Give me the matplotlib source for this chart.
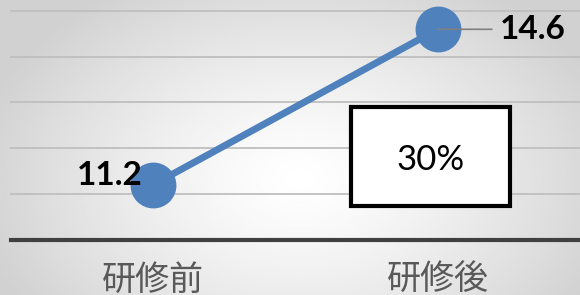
import numpy as np
import matplotlib
matplotlib.use("Agg")
import matplotlib.pyplot as plt
from matplotlib.patches import Rectangle

categories = ["研修前", "研修後"]
values = [11.2, 14.6]
value_labels = ["11.2", "14.6"]
note = "30%"
y_ticks = [11, 12, 13, 14, 15]

blue = "#4f81bd"

fig = plt.figure(figsize=(5.8, 2.95), dpi=100)

# radial gray -> white background
bg = fig.add_axes([0, 0, 1, 1], zorder=-10)
xx, yy = np.meshgrid(np.linspace(0, 580, 290), np.linspace(0, 295, 148))
r = np.sqrt(((xx - 300) / 330) ** 2 + ((yy - 180) / 230) ** 2)
shade = 1.0 - 0.18 * np.clip(r, 0, 1) ** 1.3
bg.imshow(shade, cmap="gray", vmin=0, vmax=1, aspect="auto",
          extent=[0, 1, 0, 1], interpolation="bilinear")
bg.axis("off")

ax = fig.add_axes([11 / 580, 1 - 239.5 / 295, 569 / 580, 228.5 / 295])
ax.patch.set_visible(False)
ax.set_xlim(-0.5, 1.5)
ax.set_ylim(10, 15)

for t in y_ticks:
    ax.axhline(t, color="#bfbfbf", lw=1.3, zorder=1, clip_on=False)

for s in ["top", "right", "left"]:
    ax.spines[s].set_visible(False)
ax.spines["bottom"].set_color("#404040")
ax.spines["bottom"].set_linewidth(3)
ax.set_yticks([])

x = np.arange(len(categories))
ax.set_xticks(x, categories)
ax.tick_params(axis="x", length=0, pad=17, labelsize=24.5, labelcolor="#595959")
for lab in ax.get_xticklabels():
    lab.set_family(["Noto Sans CJK JP", "DejaVu Sans"])

ax.plot(x, values, color=blue, lw=5, marker="o", markersize=32,
        markerfacecolor=blue, markeredgecolor=blue, zorder=2, clip_on=False)

ax.annotate(value_labels[0], (x[0], values[0]), xytext=(-8, 6.5),
            textcoords="offset points", ha="right", va="center",
            fontsize=24, fontweight="bold", family="Lato", color="black",
            zorder=5)
ax.annotate(value_labels[1], (x[1], values[1]), xytext=(45, 0),
            textcoords="offset points", ha="left", va="center",
            fontsize=24, fontweight="bold", family="Lato", color="black",
            arrowprops=dict(arrowstyle="-", color="#808080", lw=1.2,
                            shrinkA=4, shrinkB=0),
            zorder=5)

box = Rectangle((0.5975, 0.1466), 0.2794, 0.4333, transform=ax.transAxes,
                facecolor="white", edgecolor="black", lw=3, zorder=4,
                clip_on=False)
ax.add_patch(box)
ax.text(0.738, 0.35, note, transform=ax.transAxes, ha="center", va="center",
        fontsize=25, family="Lato", color="black", zorder=5)

fig.savefig("out.png", dpi=100)
